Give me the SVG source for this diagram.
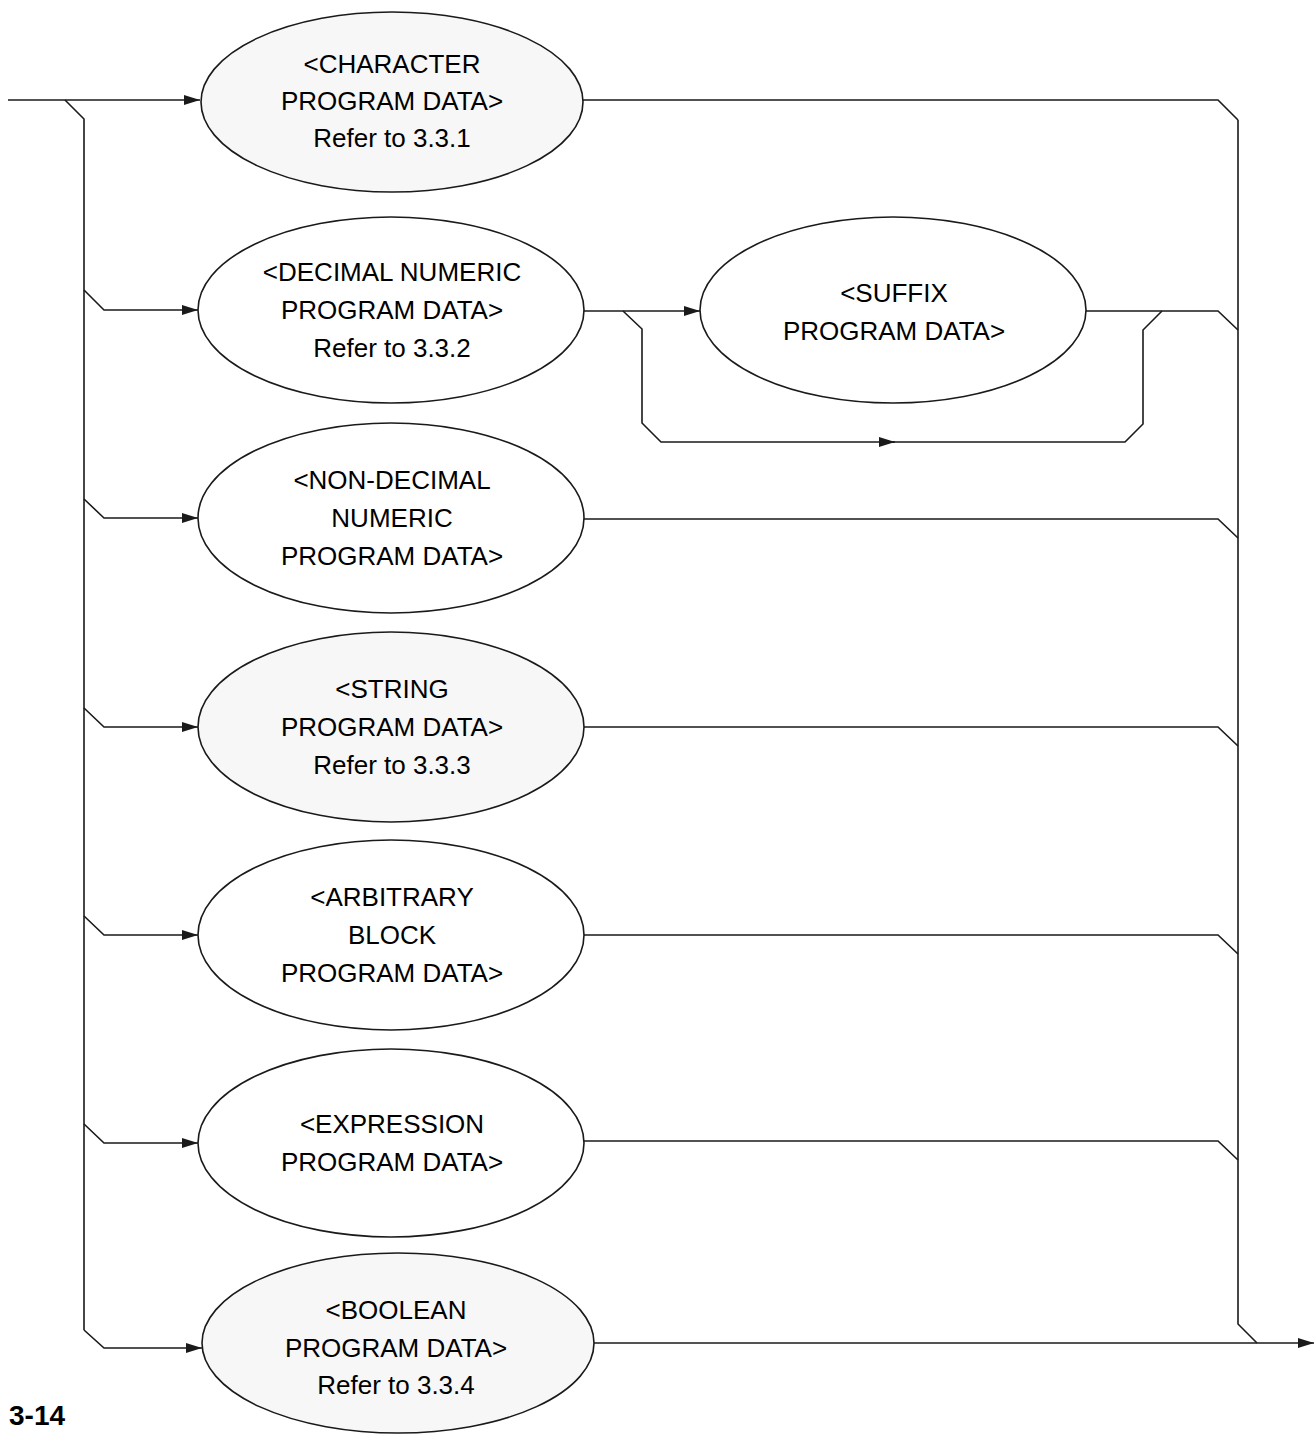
<svg xmlns="http://www.w3.org/2000/svg" width="1315" height="1434" viewBox="0 0 1315 1434">
<style>
.ln{fill:none;stroke:#1a1a1a;stroke-width:1.6;stroke-linejoin:miter}
.el{fill:#ffffff;stroke:#1a1a1a;stroke-width:1.6}
.st{fill:#f7f7f7;stroke:#1a1a1a;stroke-width:1.6}
.tx{font-family:"Liberation Sans",Arial,Helvetica,sans-serif;font-size:26px;fill:#000;text-anchor:middle}
.pg{font-family:"Liberation Sans",Arial,Helvetica,sans-serif;font-size:28px;font-weight:bold;fill:#000}
</style>
<defs>
<marker id="ar" markerUnits="userSpaceOnUse" markerWidth="18" markerHeight="12" refX="16" refY="5" orient="auto">
<path d="M0,0 L16,5 L0,10 z" fill="#1a1a1a"/>
</marker>
</defs>

<g id="connectors">
<path class="ln" d="M8,100 L200,100" marker-end="url(#ar)"/>
<path class="ln" d="M65,100 L84,119 L84,1330"/>
<path class="ln" d="M84,290 L104,310 L198,310" marker-end="url(#ar)"/>
<path class="ln" d="M84,499 L104,518 L198,518" marker-end="url(#ar)"/>
<path class="ln" d="M84,708 L104,727 L198,727" marker-end="url(#ar)"/>
<path class="ln" d="M84,916 L104,935 L198,935" marker-end="url(#ar)"/>
<path class="ln" d="M84,1124 L104,1143 L198,1143" marker-end="url(#ar)"/>
<path class="ln" d="M84,1330 L104,1348 L202,1348" marker-end="url(#ar)"/>
<path class="ln" d="M583,311 L700,311" marker-end="url(#ar)"/>
<path class="ln" d="M623,311 L642,329 L642,423 L661,442 L895,442" marker-end="url(#ar)"/>
<path class="ln" d="M890,442 L1125,442 L1143,424 L1143,330 L1162,311"/>
<path class="ln" d="M583,100 L1218,100 L1238,120"/>
<path class="ln" d="M1086,311 L1218,311 L1238,330"/>
<path class="ln" d="M583,519 L1218,519 L1238,538"/>
<path class="ln" d="M583,727 L1218,727 L1238,746"/>
<path class="ln" d="M583,935 L1218,935 L1238,954"/>
<path class="ln" d="M583,1141 L1218,1141 L1238,1160"/>
<path class="ln" d="M1238,120 L1238,1324 L1257,1343"/>
<path class="ln" d="M594,1343 L1314,1343" marker-end="url(#ar)"/>
</g>

<g id="n-character">
<ellipse class="st" cx="392" cy="102" rx="191" ry="90"/>
<text class="tx" x="392" y="73">&lt;CHARACTER</text>
<text class="tx" x="392" y="110">PROGRAM DATA&gt;</text>
<text class="tx" x="392" y="147">Refer to 3.3.1</text>
</g>

<g id="n-decimal">
<ellipse class="el" cx="391" cy="310" rx="193" ry="93"/>
<text class="tx" x="392" y="281">&lt;DECIMAL NUMERIC</text>
<text class="tx" x="392" y="319">PROGRAM DATA&gt;</text>
<text class="tx" x="392" y="357">Refer to 3.3.2</text>
</g>

<g id="n-suffix">
<ellipse class="el" cx="893" cy="310" rx="193" ry="93"/>
<text class="tx" x="894" y="302">&lt;SUFFIX</text>
<text class="tx" x="894" y="340">PROGRAM DATA&gt;</text>
</g>

<g id="n-nondecimal">
<ellipse class="el" cx="391" cy="518" rx="193" ry="95"/>
<text class="tx" x="392" y="489">&lt;NON-DECIMAL</text>
<text class="tx" x="392" y="527">NUMERIC</text>
<text class="tx" x="392" y="565">PROGRAM DATA&gt;</text>
</g>

<g id="n-string">
<ellipse class="st" cx="391" cy="727" rx="193" ry="95"/>
<text class="tx" x="392" y="698">&lt;STRING</text>
<text class="tx" x="392" y="736">PROGRAM DATA&gt;</text>
<text class="tx" x="392" y="774">Refer to 3.3.3</text>
</g>

<g id="n-arbitrary">
<ellipse class="el" cx="391" cy="935" rx="193" ry="95"/>
<text class="tx" x="392" y="906">&lt;ARBITRARY</text>
<text class="tx" x="392" y="944">BLOCK</text>
<text class="tx" x="392" y="982">PROGRAM DATA&gt;</text>
</g>

<g id="n-expression">
<ellipse class="el" cx="391" cy="1143" rx="193" ry="94"/>
<text class="tx" x="392" y="1133">&lt;EXPRESSION</text>
<text class="tx" x="392" y="1171">PROGRAM DATA&gt;</text>
</g>

<g id="n-boolean">
<ellipse class="st" cx="398" cy="1343" rx="196" ry="90"/>
<text class="tx" x="396" y="1319">&lt;BOOLEAN</text>
<text class="tx" x="396" y="1357">PROGRAM DATA&gt;</text>
<text class="tx" x="396" y="1394">Refer to 3.3.4</text>
</g>

<text class="pg" x="9" y="1425">3-14</text>
</svg>
